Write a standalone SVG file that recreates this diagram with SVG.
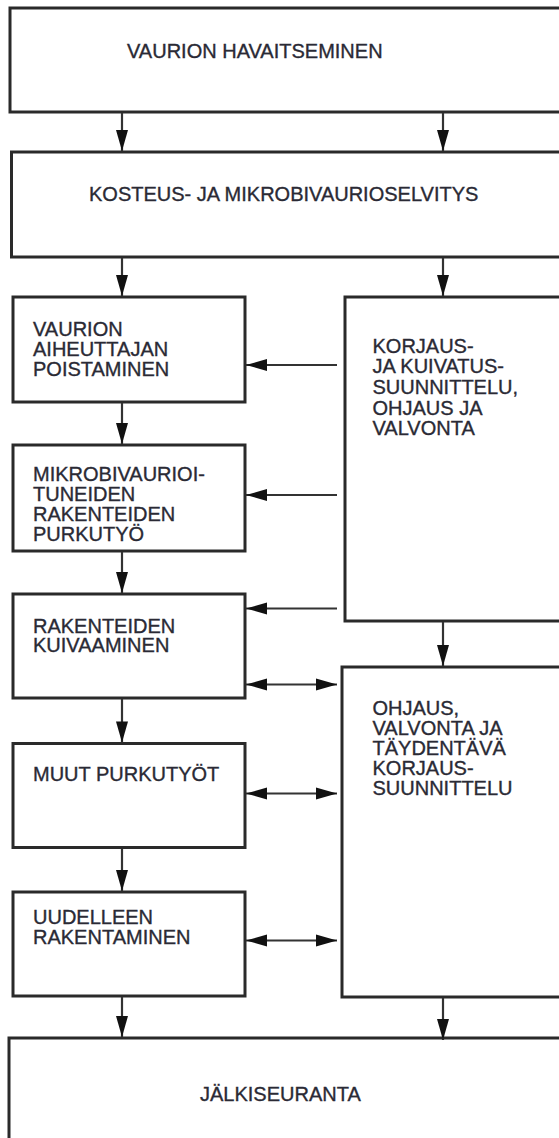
<svg xmlns="http://www.w3.org/2000/svg" width="559" height="1138" viewBox="0 0 559 1138">
<style>
.box{fill:#fff;stroke:#2a2a2a;stroke-width:3}
.t{font-family:"Liberation Sans",Arial,sans-serif;font-size:20px;fill:#2a2a35;stroke:#2a2a35;stroke-width:0.35}
.c{stroke:#333;stroke-width:2.2;fill:none}
</style>
<defs>
<marker id="ah" markerUnits="userSpaceOnUse" markerWidth="24" markerHeight="16" viewBox="-22 -8 24 16" refX="0" refY="0" orient="auto-start-reverse">
<path d="M0,0 L-21,-6 L-21,6 Z" fill="#111"/>
</marker>
</defs>
<rect width="559" height="1138" fill="#fff"/>
<g id="n1"><rect class="box" x="10" y="8" width="570" height="104"/><text class="t" x="127" y="57.5">VAURION HAVAITSEMINEN</text></g>
<g id="n2"><rect class="box" x="11.5" y="152" width="570" height="105"/><text class="t" x="89" y="201">KOSTEUS- JA MIKROBIVAURIOSELVITYS</text></g>
<g id="nA"><rect class="box" x="13" y="297" width="232" height="105"/><text class="t" x="33" y="335.5">VAURION</text><text class="t" x="33" y="355.5">AIHEUTTAJAN</text><text class="t" x="33" y="375.5">POISTAMINEN</text></g>
<g id="nB"><rect class="box" x="345" y="297" width="230" height="324"/><text class="t" x="372.5" y="352.5">KORJAUS-</text><text class="t" x="372.5" y="373">JA KUIVATUS-</text><text class="t" x="372.5" y="393.5">SUUNNITTELU,</text><text class="t" x="372.5" y="414.5">OHJAUS JA</text><text class="t" x="372.5" y="435">VALVONTA</text></g>
<g id="nC"><rect class="box" x="13" y="445" width="232" height="106"/><text class="t" x="33" y="481">MIKROBIVAURIOI-</text><text class="t" x="33" y="501">TUNEIDEN</text><text class="t" x="33" y="521">RAKENTEIDEN</text><text class="t" x="33" y="540.5">PURKUTYÖ</text></g>
<g id="nD"><rect class="box" x="13" y="594" width="232" height="104"/><text class="t" x="33" y="632.5">RAKENTEIDEN</text><text class="t" x="33" y="652">KUIVAAMINEN</text></g>
<g id="nE"><rect class="box" x="342" y="667" width="235" height="330"/><text class="t" x="372.5" y="715">OHJAUS,</text><text class="t" x="372.5" y="735">VALVONTA JA</text><text class="t" x="372.5" y="754.5">TÄYDENTÄVÄ</text><text class="t" x="372.5" y="774.5">KORJAUS-</text><text class="t" x="372.5" y="794.5">SUUNNITTELU</text></g>
<g id="nF"><rect class="box" x="13" y="743.5" width="232" height="104"/><text class="t" x="33" y="781">MUUT PURKUTYÖT</text></g>
<g id="nG"><rect class="box" x="13" y="892" width="232" height="104"/><text class="t" x="33" y="924">UUDELLEEN</text><text class="t" x="33" y="944">RAKENTAMINEN</text></g>
<g id="nH"><rect class="box" x="9" y="1038" width="570" height="120"/><text class="t" x="200" y="1100.5">JÄLKISEURANTA</text></g>
<g id="connectors">
<line class="c" x1="122" y1="113" x2="122" y2="151" marker-end="url(#ah)"/>
<line class="c" x1="443" y1="113" x2="443" y2="151" marker-end="url(#ah)"/>
<line class="c" x1="122" y1="258" x2="122" y2="296" marker-end="url(#ah)"/>
<line class="c" x1="443" y1="258" x2="443" y2="296" marker-end="url(#ah)"/>
<line class="c" x1="122" y1="403" x2="122" y2="444" marker-end="url(#ah)"/>
<line class="c" x1="122" y1="552" x2="122" y2="593" marker-end="url(#ah)"/>
<line class="c" x1="122" y1="699" x2="122" y2="742.5" marker-end="url(#ah)"/>
<line class="c" x1="122" y1="849" x2="122" y2="891" marker-end="url(#ah)"/>
<line class="c" x1="122" y1="997" x2="122" y2="1037" marker-end="url(#ah)"/>
<line class="c" x1="443" y1="622" x2="443" y2="666" marker-end="url(#ah)"/>
<line class="c" x1="443" y1="998" x2="443" y2="1040" marker-end="url(#ah)"/>
<line class="c" x1="337" y1="365" x2="246" y2="365" marker-end="url(#ah)"/>
<line class="c" x1="337" y1="495" x2="246" y2="495" marker-end="url(#ah)"/>
<line class="c" x1="337" y1="608.5" x2="246" y2="608.5" marker-end="url(#ah)"/>
<line class="c" x1="246" y1="684.5" x2="337" y2="684.5" marker-start="url(#ah)" marker-end="url(#ah)"/>
<line class="c" x1="246" y1="793.5" x2="337" y2="793.5" marker-start="url(#ah)" marker-end="url(#ah)"/>
<line class="c" x1="246" y1="940.5" x2="337" y2="940.5" marker-start="url(#ah)" marker-end="url(#ah)"/>
</g>
</svg>
